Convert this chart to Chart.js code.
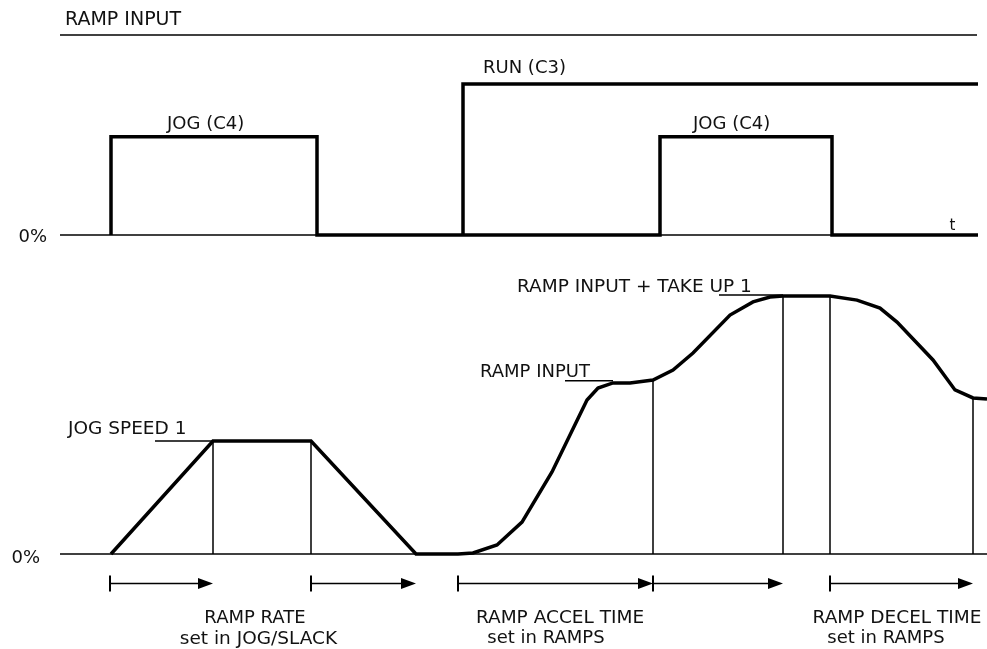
<!DOCTYPE html>
<html>
<head>
<meta charset="utf-8">
<title>Ramp input / jog timing</title>
<script src="https://cdn.jsdelivr.net/npm/chart.js@4/dist/chart.umd.min.js"></script>
<style>
  html, body { margin: 0; padding: 0; background: #fff; }
  #wrap { width: 987px; height: 649px; }
</style>
</head>
<body>
<div id="wrap"><canvas id="diagram" width="987" height="649"></canvas></div>
<script>
// time axis in 0.1 s steps (arbitrary), levels in % of each trace's own scale

// top trace: ramp input (yIn)
const JOG_T = [11.1, 11.1, 31.7, 31.7, 66.0, 66.0, 83.2, 83.2, 97.8];
const JOG_V = [0, 65, 65, 0, 0, 65, 65, 0, 0];
const RUN_T = [46.3, 46.3, 97.8];
const RUN_V = [0, 100, 100];
const BASE_IN_T = [6.0, 97.7];
const BASE_IN_V = [0, 0];
const RULE_T = [6.0, 97.7];
const RULE_V = [132.5, 132.5];

// bottom trace: speed demand (ySpd)
const SPEED_T = [11.1, 21.3, 31.1, 41.6, 45.8, 47.3, 49.7, 52.2, 55.2, 58.7, 59.8, 61.3, 63.0, 65.3,
                 67.3, 69.3, 73.0, 75.3, 77.0, 78.3, 83.0, 85.7, 88.0, 89.7, 93.3, 95.5, 97.3, 98.7];
const SPEED_V = [0, 43.8, 43.8, 0, 0, 0.4, 3.5, 12.4, 31.8, 59.7, 64.3, 66.3, 66.3, 67.4,
                 71.3, 77.9, 92.6, 97.7, 99.6, 100, 100, 98.4, 95.3, 89.9, 75.2, 63.6, 60.5, 60.1];
const BASE_SPD_T = [6.0, 98.7];
const BASE_SPD_V = [0, 0];

// thin drop lines under the speed trace
const DROP_T = [21.3, 31.1, 65.3, 78.3, 83.0, 97.3];
const DROP_V = [43.8, 43.8, 67.4, 100, 100, 60.5];

// leader lines for the level labels [from, to, level]
const LEADER_FROM = [15.5, 56.5, 71.9];
const LEADER_TO = [21.3, 61.3, 78.3];
const LEADER_V = [43.8, 67.2, 100.4];

// timing arrows under the speed trace
const ARROW_FROM = [11.0, 31.1, 45.8, 65.3, 83.0];
const ARROW_TO = [21.3, 41.6, 65.3, 78.3, 97.3];
const ARROW_LEVEL = -11.2;

// text: [text, t, level, axis, align, size]
const LABELS = [
  ["RAMP INPUT", 6.5, 139.1, "yIn", "left", 19],
  ["RUN (C3)", 48.3, 107.3, "yIn", "left", 18],
  ["JOG (C4)", 16.7, 69.9, "yIn", "left", 18],
  ["JOG (C4)", 69.3, 69.9, "yIn", "left", 18],
  ["t", 95.25, 3.3, "yIn", "center", 15],
  ["0%", 4.7, -4.6, "yIn", "right", 18],
  ["0%", 4.0, -3.5, "ySpd", "right", 18],
  ["JOG SPEED 1", 6.8, 46.5, "ySpd", "left", 18.5],
  ["RAMP INPUT", 48.0, 68.6, "ySpd", "left", 18],
  ["RAMP INPUT + TAKE UP 1", 51.7, 101.6, "ySpd", "left", 18.5],
  ["RAMP RATE", 25.5, -26.7, "ySpd", "center", 18],
  ["set in JOG/SLACK", 25.85, -34.9, "ySpd", "center", 18.5],
  ["RAMP ACCEL TIME", 56.0, -26.7, "ySpd", "center", 18.5],
  ["set in RAMPS", 54.6, -34.5, "ySpd", "center", 18],
  ["RAMP DECEL TIME", 89.7, -26.7, "ySpd", "center", 18.5],
  ["set in RAMPS", 88.6, -34.5, "ySpd", "center", 18]
];

const FONT = '"DejaVu Sans", sans-serif';
const INK = "#111";

function zip(ts, vs){
  return ts.map((t, i) => ({ x: t, y: vs[i] }));
}

// separate segments joined with null gaps
function segments(fromT, toT, fromV, toV){
  const out = [];
  fromT.forEach((t, i) => {
    out.push({ x: t, y: fromV[i] });
    out.push({ x: toT[i], y: toV[i] });
    out.push({ x: toT[i], y: null });
  });
  return out;
}

function line(label, data, axis, width){
  return {
    label, data, yAxisID: axis,
    showLine: true, borderColor: "#000", borderWidth: width,
    pointRadius: 0, tension: 0, fill: false,
    borderJoinStyle: "miter", borderCapStyle: "butt", spanGaps: false
  };
}

const diagramPlugin = {
  id: "diagram",
  afterDatasetsDraw(chart){
    const { ctx, scales } = chart;
    const x = scales.x;
    ctx.save();

    // arrows
    const ay = Math.round(scales.ySpd.getPixelForValue(ARROW_LEVEL)) + 0.5;
    ARROW_FROM.forEach((t0, i) => {
      const x0 = x.getPixelForValue(t0);
      const x1 = x.getPixelForValue(ARROW_TO[i]);
      ctx.strokeStyle = "#000";
      ctx.lineWidth = 1.5;
      ctx.beginPath();
      ctx.moveTo(x0, ay);
      ctx.lineTo(x1 - 10, ay);
      ctx.stroke();
      ctx.lineWidth = 2;
      ctx.beginPath();
      ctx.moveTo(x0, ay - 8);
      ctx.lineTo(x0, ay + 8);
      ctx.stroke();
      ctx.fillStyle = "#000";
      ctx.beginPath();
      ctx.moveTo(x1, ay);
      ctx.lineTo(x1 - 15, ay - 5.5);
      ctx.lineTo(x1 - 15, ay + 5.5);
      ctx.closePath();
      ctx.fill();
    });

    // labels
    ctx.fillStyle = INK;
    ctx.textBaseline = "alphabetic";
    LABELS.forEach(([text, t, v, axis, align, size]) => {
      ctx.font = `${size}px ${FONT}`;
      ctx.textAlign = align;
      ctx.fillText(text, x.getPixelForValue(t), scales[axis].getPixelForValue(v));
    });
    ctx.restore();
  }
};

new Chart(document.getElementById("diagram").getContext("2d"), {
  type: "scatter",
  data: {
    datasets: [
      line("rule", zip(RULE_T, RULE_V), "yIn", 1.5),
      line("base in", zip(BASE_IN_T, BASE_IN_V), "yIn", 1.5),
      line("base speed", zip(BASE_SPD_T, BASE_SPD_V), "ySpd", 1.5),
      line("drops", segments(DROP_T, DROP_T, DROP_V, DROP_T.map(() => 0)), "ySpd", 1.5),
      line("leaders", segments(LEADER_FROM, LEADER_TO, LEADER_V, LEADER_V), "ySpd", 1.5),
      line("JOG (C4)", zip(JOG_T, JOG_V), "yIn", 3.5),
      line("RUN (C3)", zip(RUN_T, RUN_V), "yIn", 3.5),
      line("speed", zip(SPEED_T, SPEED_V), "ySpd", 3.5)
    ]
  },
  options: {
    responsive: false,
    animation: false,
    devicePixelRatio: 1,
    layout: { padding: 0 },
    plugins: { legend: { display: false }, tooltip: { enabled: false } },
    events: [],
    scales: {
      x: { type: "linear", min: 0, max: 98.7, display: false },
      yIn: { type: "linear", min: -274.2, max: 155.6, display: false },
      ySpd: { type: "linear", min: -36.8, max: 214.7, display: false }
    }
  },
  plugins: [diagramPlugin]
});
</script>
</body>
</html>
